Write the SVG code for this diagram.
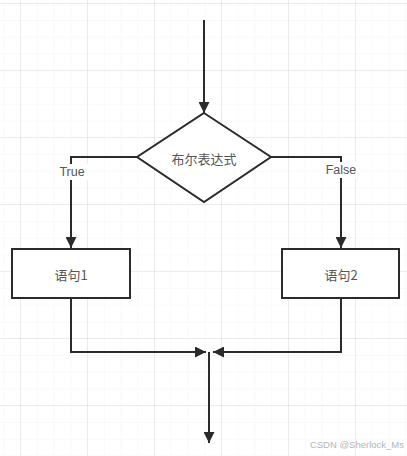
<svg xmlns="http://www.w3.org/2000/svg" width="407" height="456" viewBox="0 0 407 456">
<style>
.ln{fill:none;stroke:#2b2b2b;stroke-width:2}
.shape{fill:#fff;stroke:#2b2b2b;stroke-width:2}
.lbl{font-family:"Noto Sans CJK SC","Liberation Sans",sans-serif;font-size:13px;fill:#555;text-anchor:middle;dominant-baseline:central}
.en{font-family:"Liberation Sans",sans-serif;font-size:12.5px}
.wm{font-family:"Liberation Sans",sans-serif;font-size:9.5px;fill:#b5b5b5;text-anchor:end}
</style>
<defs>
<pattern id="minor" x="3.25" y="3.25" width="16.75" height="16.75" patternUnits="userSpaceOnUse">
<path d="M0 0H16.75M0 0V16.75" fill="none" stroke="#f3f3f3" stroke-width="1"/>
</pattern>
<pattern id="major" x="20" y="3" width="67" height="67" patternUnits="userSpaceOnUse">
<path d="M0 0H67M0 0V67" fill="none" stroke="#e6e6e6" stroke-width="1.5"/>
</pattern>
<marker id="arr" viewBox="0 0 10 10" refX="10" refY="5" markerWidth="5.5" markerHeight="5.5" orient="auto" markerUnits="strokeWidth">
<path d="M0 0L10 5L0 10Z" fill="#2b2b2b"/>
</marker>
</defs>
<rect width="407" height="456" fill="#fff"/>
<rect width="407" height="456" fill="url(#minor)"/>
<rect width="407" height="456" fill="url(#major)"/>
<g id="connectors">
<path class="ln" d="M204 20V113" marker-end="url(#arr)"/>
<path class="ln" d="M137 157H71V248" marker-end="url(#arr)"/>
<path class="ln" d="M271 157H341V248" marker-end="url(#arr)"/>
<path class="ln" d="M71 298V352H206" marker-end="url(#arr)"/>
<path class="ln" d="M341 298V352H213" marker-end="url(#arr)"/>
<path class="ln" d="M209 352V443" marker-end="url(#arr)"/>
<rect x="55" y="164" width="34" height="16" fill="#fff"/>
<text class="lbl en" x="72" y="172">True</text>
<rect x="322" y="162" width="38" height="16" fill="#fff"/>
<text class="lbl en" x="341" y="170">False</text>
</g>
<g id="decision">
<polygon class="shape" points="204,113 271,157 204,202 137,157"/>
<text class="lbl" x="204" y="158">布尔表达式</text>
</g>
<g id="stmt1">
<rect class="shape" x="12" y="249" width="118" height="49"/>
<text class="lbl" x="71" y="274">语句1</text>
</g>
<g id="stmt2">
<rect class="shape" x="282" y="249" width="117" height="49"/>
<text class="lbl" x="341" y="274">语句2</text>
</g>
<text class="wm" x="404" y="448">CSDN @Sherlock_Ms</text>
</svg>
